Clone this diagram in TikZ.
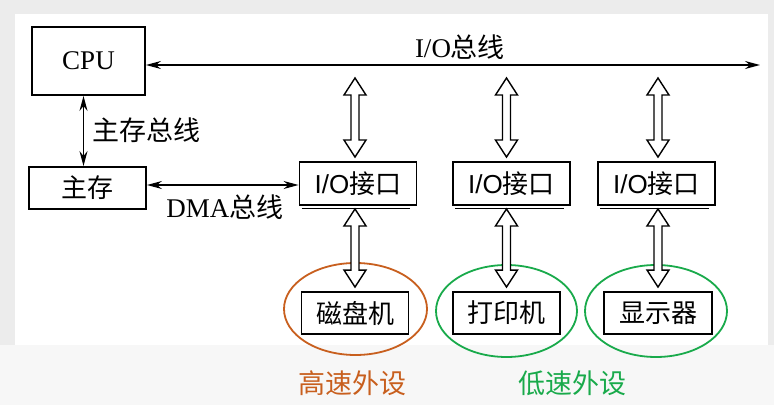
\documentclass[tikz,border=0pt]{standalone}
\usepackage{fontspec}
\setmainfont{Liberation Serif}
\newfontfamily\cjk{Noto Sans CJK SC}
\newfontfamily\iofont{Liberation Sans}
\usepackage{xcolor}
\usepackage{tikz}
\usetikzlibrary{arrows.meta,shapes.geometric,calc}
\definecolor{fastc}{RGB}{200,95,30}
\definecolor{slowc}{RGB}{25,170,75}
\definecolor{pagebg}{RGB}{236,236,236}
\definecolor{stripbg}{RGB}{247,247,247}
\tikzset{
  unit/.style={
    rectangle,
    draw=black,
    line width=1.9pt,
    fill=white,
    inner sep=0pt,
    align=center,
    font=\fontsize{27}{30}\selectfont
  },
  port/.style={
    unit,
    minimum width=117pt,
    minimum height=43pt,
    font=\fontsize{26}{30}\selectfont
  },
  device/.style={
    unit,
    minimum width=107pt,
    minimum height=42pt,
    font=\fontsize{26}{30}\selectfont\cjk
  },
  group/.style={
    ellipse,
    draw,
    line width=1.8pt,
    minimum width=143pt,
    minimum height=92pt,
    inner sep=0pt
  },
  tag/.style={inner sep=0pt, font=\fontsize{27}{30}\selectfont},
  busarrow/.style={{Stealth[length=15pt,width=8pt,inset=5pt]}-{Stealth[length=15pt,width=8pt,inset=5pt]}, line width=1.3pt},
  fat/.style={draw=black, line width=1.4pt, fill=white, line join=miter}
}
% hollow double arrow, vertical, from #1 (top) down to #2
\newcommand{\fatarrow}[2]{%
  \draw[fat] let \p1=(#1), \p2=(#2) in
    (\x1,\y1) -- ++(11pt,-17pt) -- ++(-7pt,0pt) -- (\x1+4pt,\y2+17pt)
    -- ++(7pt,0pt) -- (\x1,\y2) -- ++(-11pt,17pt) -- ++(7pt,0pt)
    -- (\x1-4pt,\y1-17pt) -- ++(-7pt,0pt) -- cycle;}

\begin{document}
\begin{tikzpicture}[x=1pt,y=1pt]
  % page
  \fill[pagebg] (0,0) rectangle (774,405);
  \fill[stripbg] (0,0) rectangle (774,60);
  \fill[white] (15,60) rectangle (768,391);
  \useasboundingbox (0,0) rectangle (774,405);

  \node[unit, minimum width=113pt, minimum height=68pt] (cpu) at (88.5,344) {CPU};
  \node[unit, minimum width=117pt, minimum height=42pt, font=\fontsize{26}{30}\selectfont\cjk] (mem) at (87.5,217) {主存};

  \node[port] (io1) at (358,221.5) {\iofont I/O\cjk 接口};
  \node[port] (io2) at (511.5,221.5) {\iofont I/O\cjk 接口};
  \node[port] (io3) at (656.5,221.5) {\iofont I/O\cjk 接口};
  \foreach \n in {io1,io2,io3}
    \draw[line width=1.1pt] ([xshift=3pt,yshift=-2.8pt]\n.south west) -- ([xshift=-7pt,yshift=-2.8pt]\n.south east);

  \node[group, draw=fastc] (fast) at (355.5,96) {};
  \node[group, draw=slowc, minimum width=141pt] (slowa) at (506.5,94) {};
  \node[group, draw=slowc, minimum width=142pt] (slowb) at (656,94) {};

  \node[device] (disk) at (355,92) {磁盘机};
  \node[device] (printer) at (506.5,92) {打印机};
  \node[device, minimum width=108pt] (screen) at (658,92) {显示器};

  \node[tag, text=fastc] (fasttag) at (352,22) {\cjk 高速外设};
  \node[tag, text=slowc] (slowtag) at (572,22) {\cjk 低速外设};

  % buses
  \coordinate (busend) at (760,340);
  \draw[busarrow] (cpu.east |- busend) -- (busend);
  \node[tag] (buslabel) at (460,358) {I/O\cjk 总线};

  \draw[busarrow] ([xshift=-5pt]cpu.south) -- ([xshift=-5pt]cpu.south |- mem.north);
  \node[tag, anchor=west] (memlabel) at (92,275) {\cjk 主存总线};

  \draw[busarrow] ([yshift=3pt]mem.east) -- ([yshift=3pt]mem.east -| io1.west);
  \node[tag] (dmalabel) at (225,198) {DMA\cjk 总线};

  % taps on the I/O bus
  \coordinate (tap1) at (disk |- busend);
  \coordinate (tap2) at (printer |- busend);
  \coordinate (tap3) at (screen |- busend);

  \fatarrow{$(tap1)+(0,-13)$}{$(io1.north)+(0,4)$}
  \fatarrow{$(tap2)+(0,-13)$}{$(io2.north)+(0,4)$}
  \fatarrow{$(tap3)+(0,-13)$}{$(io3.north)+(0,4)$}

  \fatarrow{$(io1.south -| disk)+(0,-3)$}{$(disk.north)+(0,4)$}
  \fatarrow{$(io2.south -| printer)+(0,-3)$}{$(printer.north)+(0,4)$}
  \fatarrow{$(io3.south -| screen)+(0,-3)$}{$(screen.north)+(0,4)$}
\end{tikzpicture}
\end{document}
